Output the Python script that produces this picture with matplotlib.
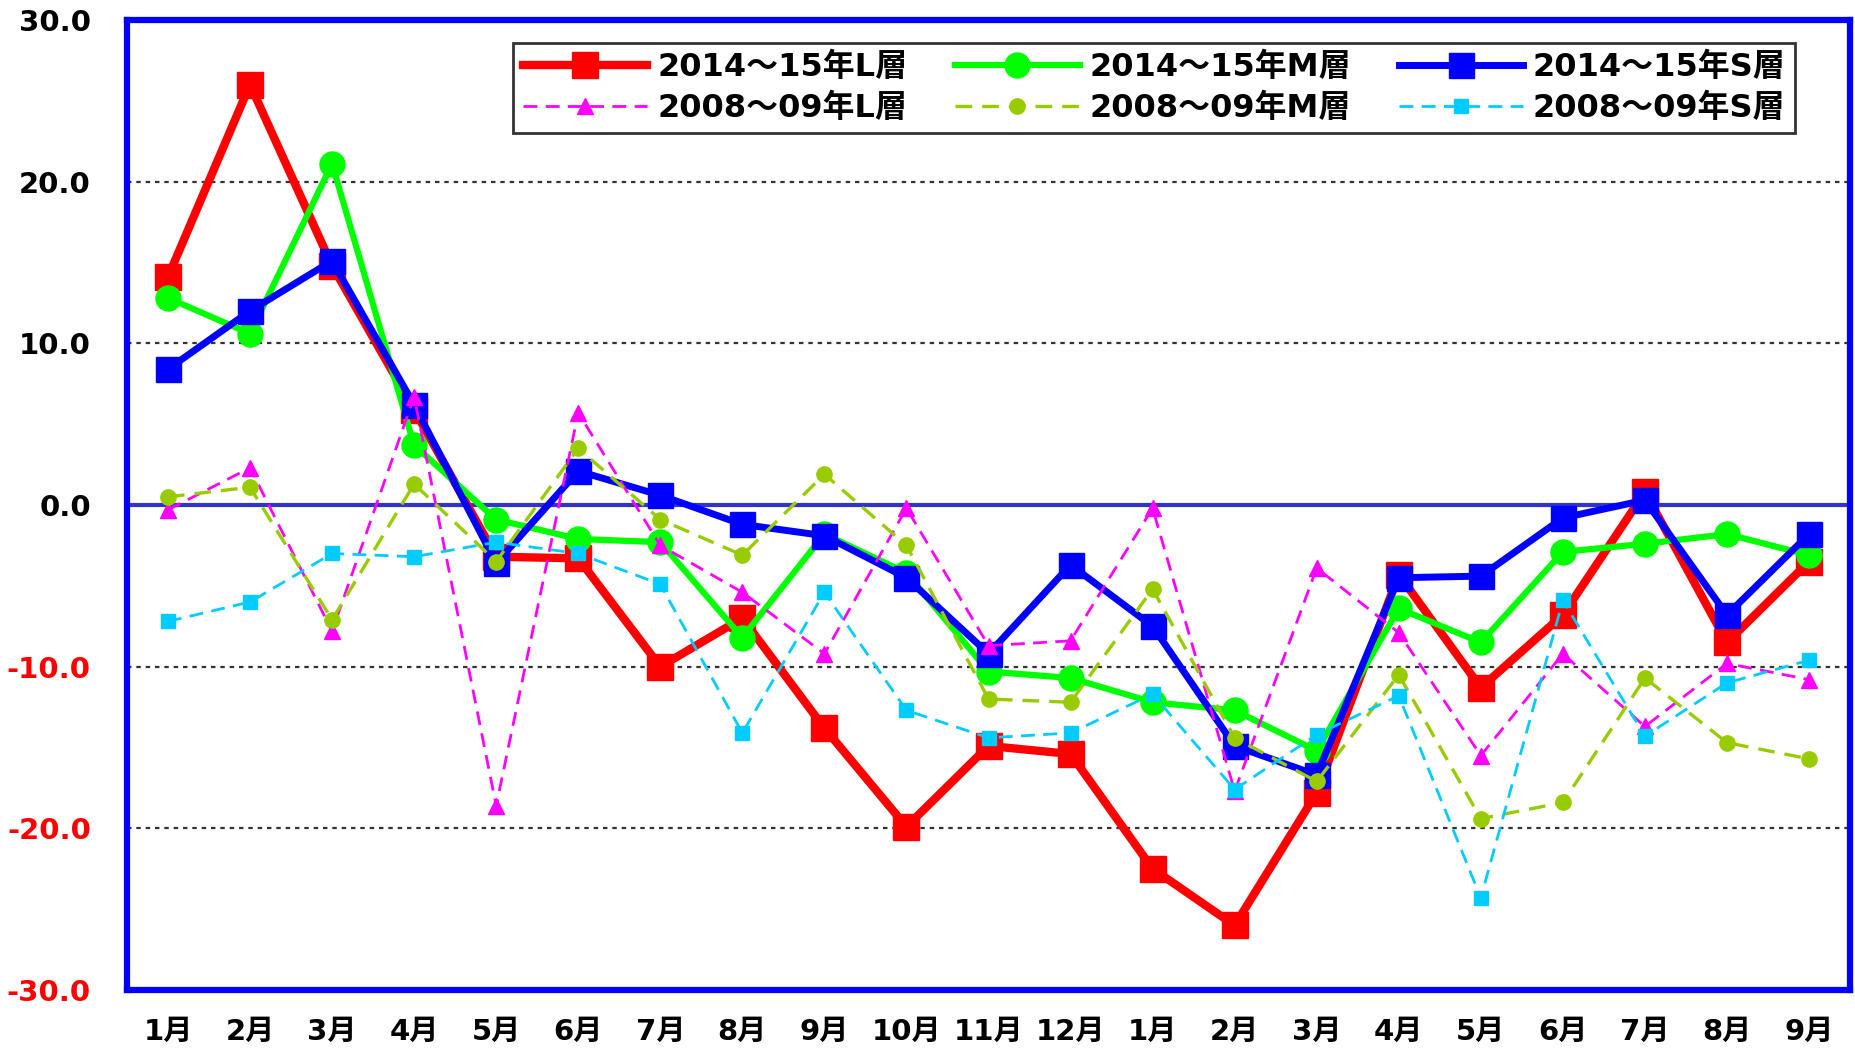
import matplotlib.pyplot as plt
import numpy as np

plt.rcParams['font.family'] = ['DejaVu Sans', 'Noto Sans CJK JP']

months = ['1月', '2月', '3月', '4月', '5月', '6月', '7月', '8月', '9月', '10月', '11月', '12月',
          '1月', '2月', '3月', '4月', '5月', '6月', '7月', '8月', '9月']

# 2014～15年
l_1415 = [14.1, 26.0, 14.8, 5.9, -3.2, -3.3, -10.0, -7.0, -13.8, -19.9, -14.9, -15.4,
          -22.5, -26.0, -17.8, -4.3, -11.3, -6.8, 0.8, -8.5, -3.5]
m_1415 = [12.8, 10.6, 21.1, 3.7, -0.9, -2.1, -2.3, -8.2, -1.8, -4.2, -10.3, -10.7,
          -12.2, -12.7, -15.2, -6.4, -8.5, -2.9, -2.4, -1.8, -3.1]
s_1415 = [8.4, 12.0, 15.1, 6.2, -3.6, 2.1, 0.6, -1.2, -1.9, -4.5, -9.2, -3.7,
          -7.5, -14.9, -16.7, -4.5, -4.4, -0.8, 0.3, -6.8, -1.8]

# 2008～09年
l_0809 = [-0.3, 2.3, -7.8, 6.7, -18.6, 5.7, -2.5, -5.4, -9.2, -0.2, -8.7, -8.4,
          -0.2, -17.7, -3.9, -7.9, -15.5, -9.2, -13.7, -9.8, -10.8]
m_0809 = [0.5, 1.1, -7.1, 1.3, -3.5, 3.5, -0.9, -3.1, 1.9, -2.5, -12.0, -12.2,
          -5.2, -14.4, -17.1, -10.5, -19.4, -18.4, -10.7, -14.7, -15.7]
s_0809 = [-7.2, -6.0, -3.0, -3.2, -2.3, -3.0, -4.9, -14.1, -5.4, -12.7, -14.4, -14.1,
          -11.7, -17.6, -14.2, -11.8, -24.3, -5.9, -14.3, -11.0, -9.6]

yticks = [30, 20, 10, 0, -10, -20, -30]

fig = plt.figure(figsize=(18.56, 10.49), dpi=100)
ax = fig.add_axes([0.0684, 0.0562, 0.9284, 0.9248])
x = np.arange(len(months))

# グリッドと0線
for g in [20, 10, -10, -20]:
    ax.axhline(g, color='#333333', lw=1.6, dashes=(2, 2.2), zorder=1)
ax.axhline(0, color='#3333CC', lw=3, zorder=2)

h_l14, = ax.plot(x, l_1415, color='#FF0000', lw=6, marker='s', ms=19, zorder=3,
                 label='2014～15年L層')
h_m14, = ax.plot(x, m_1415, color='#00FF00', lw=4.5, marker='o', ms=18, zorder=4,
                 label='2014～15年M層')
h_s14, = ax.plot(x, s_1415, color='#0000FF', lw=5, marker='s', ms=18, zorder=5,
                 label='2014～15年S層')
h_l08, = ax.plot(x, l_0809, color='#FF00FF', lw=2, dashes=(5, 3), marker='^', ms=12,
                 zorder=6, label='2008～09年L層')
h_m08, = ax.plot(x, m_0809, color='#99CC00', lw=2.4, dashes=(5, 3), marker='o', ms=11,
                 zorder=7, label='2008～09年M層')
h_s08, = ax.plot(x, s_0809, color='#00CCFF', lw=2, dashes=(5, 3), marker='s', ms=10,
                 zorder=8, label='2008～09年S層')

ax.set_xlim(-0.5, len(months) - 0.5)
ax.set_ylim(-30, 30)
ax.set_xticks(x)
ax.set_xticklabels(months, fontsize=21, fontweight='bold')
ax.set_yticks(yticks)
ax.set_yticklabels([f'{v:.1f}' for v in yticks], fontsize=21, fontweight='bold')
for lbl, v in zip(ax.get_yticklabels(), yticks):
    lbl.set_color('red' if v < 0 else 'black')
ax.tick_params(length=0, axis='y', pad=26)
ax.tick_params(length=0, axis='x', pad=20)

for sp in ax.spines.values():
    sp.set_color('#0000FF')
    sp.set_linewidth(4.5)

leg = ax.legend(handles=[h_l14, h_l08, h_m14, h_m08, h_s14, h_s08], ncol=3,
                loc='upper right', bbox_to_anchor=(0.9775, 0.993),
                prop={'family': ['DejaVu Sans', 'Noto Sans CJK JP'], 'weight': 'bold', 'size': 23},
                handlelength=3.9, columnspacing=1.5, handletextpad=0.3,
                labelspacing=0.3, borderpad=0.3, frameon=True, fancybox=False)
leg.get_frame().set_edgecolor('black')
leg.get_frame().set_linewidth(2)
leg.set_zorder(10)

fig.savefig('out.png', dpi=100)
